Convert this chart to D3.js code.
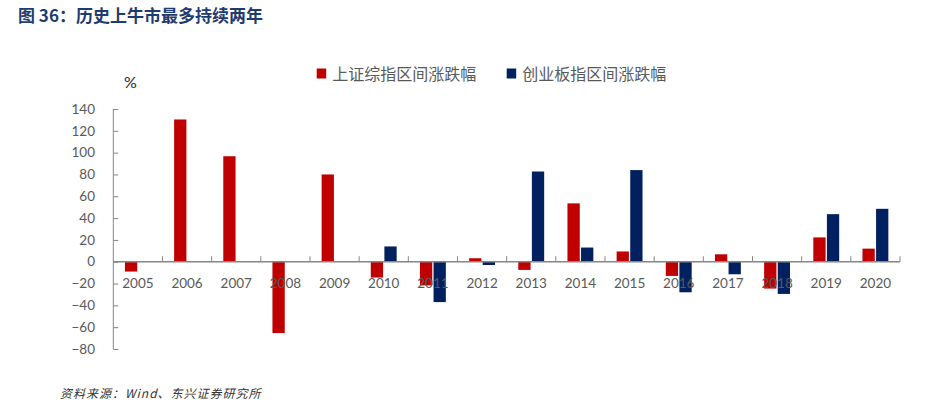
<!DOCTYPE html>
<html>
<head>
<meta charset="utf-8">
<script src="https://cdn.jsdelivr.net/npm/d3@7"></script>
<style>
  html, body { margin: 0; padding: 0; background: #fff; }
  svg { display: block; }
</style>
</head>
<body>
<svg id="chart" width="929" height="419"></svg>
<script>
const years = ["2005","2006","2007","2008","2009","2010","2011","2012","2013","2014","2015","2016","2017","2018","2019","2020"];
const sseChange = [-9, 130.4, 96.7, -65.4, 80, -14.5, -21.7, 3.2, -7.5, 53.5, 9.4, -13, 6.8, -24.6, 22.3, 12];
const chinextChange = [null, null, null, null, null, 14, -37, -3, 82.7, 13, 84, -28, -11.5, -29.5, 43.6, 48.5];
const seriesNames = ["上证综指区间涨跌幅", "创业板指区间涨跌幅"];
const seriesColors = ["#C00000", "#002060"];
const yTicks = [-80, -60, -40, -20, 0, 20, 40, 60, 80, 100, 120, 140];

const svg = d3.select("#chart");
const cjk = "'Noto Sans CJK SC', 'Noto Sans', sans-serif";
const numFont = "Lato, 'Noto Sans', sans-serif";
const axisColor = "#868686";
const labelColor = "#595959";

const x0 = d3.scaleBand().domain(years).range([113.3, 900]).paddingInner(0).paddingOuter(0);
const x1 = d3.scaleBand().domain([0, 1]).range([0, x0.bandwidth()]).paddingInner(0.096).paddingOuter(0.857);
const y = d3.scaleLinear().domain([-80, 140]).range([349, 109]);

// Title
svg.append("text").attr("x", 18).attr("y", 21.5)
  .attr("font-family", cjk).attr("font-weight", "bold").attr("font-size", 17)
  .attr("fill", "#1F3C6E").text("图 36：历史上牛市最多持续两年");

// Percent unit label
svg.append("text").attr("x", 130.5).attr("y", 88).attr("text-anchor", "middle")
  .attr("font-family", numFont).attr("font-size", 16).attr("fill", "#262626").text("%");

// Legend
const legendX = [316.7, 506.7];
seriesNames.forEach((name, i) => {
  svg.append("rect").attr("x", legendX[i]).attr("y", 68.5).attr("width", 9.5).attr("height", 10)
    .attr("fill", seriesColors[i]);
  svg.append("text").attr("x", legendX[i] + 15.5).attr("y", 79.5)
    .attr("font-family", cjk).attr("font-size", 16).attr("fill", labelColor).text(name);
});

// Y axis
const yAxis = d3.axisRight(y).tickValues(yTicks).tickSize(5).tickFormat("");
const gy = svg.append("g").attr("transform", "translate(113.3,0)").call(yAxis);
gy.select(".domain").attr("stroke", axisColor).attr("d", `M0,${y(140)}V${y(-80)}`);
gy.selectAll(".tick line").attr("stroke", axisColor);

svg.append("g").selectAll("text").data(yTicks).join("text")
  .attr("x", 95).attr("y", d => y(d)).attr("dy", "0.35em").attr("text-anchor", "end")
  .attr("font-family", numFont).attr("font-size", 13.5).attr("fill", labelColor)
  .text(d => d3.format("d")(d));

// Bars
const series = [sseChange, chinextChange];
series.forEach((vals, si) => {
  svg.append("g").selectAll("rect")
    .data(years.map((yr, i) => ({ yr, v: vals[i] })).filter(d => d.v !== null))
    .join("rect")
    .attr("x", d => x0(d.yr) + x1(si))
    .attr("width", x1.bandwidth())
    .attr("y", d => y(Math.max(0, d.v)))
    .attr("height", d => Math.abs(y(d.v) - y(0)))
    .attr("fill", seriesColors[si]);
});

// X axis line at zero with inward ticks at category boundaries
const xAxisG = svg.append("g");
xAxisG.append("line").attr("x1", 113.3).attr("x2", 900).attr("y1", y(0)).attr("y2", y(0))
  .attr("stroke", axisColor).attr("stroke-width", 1.3);
const boundaries = years.slice(1).map(yr => x0(yr)).concat([x0.range()[1]]);
xAxisG.selectAll("line.tk").data(boundaries).join("line").attr("class", "tk")
  .attr("x1", d => d).attr("x2", d => d).attr("y1", y(0)).attr("y2", y(0) - 5.5)
  .attr("stroke", axisColor);

// X labels
svg.append("g").selectAll("text").data(years).join("text")
  .attr("x", d => x0(d) + x0.bandwidth() / 2).attr("y", 288.3).attr("text-anchor", "middle")
  .attr("font-family", numFont).attr("font-size", 13.5).attr("fill", labelColor)
  .text(d => d);

// Source
svg.append("text").attr("x", 60).attr("y", 397.5)
  .attr("font-family", cjk).attr("font-style", "italic").attr("font-size", 12)
  .attr("letter-spacing", 1).attr("fill", "#333").text("资料来源：Wind、东兴证券研究所");
</script>
</body>
</html>
